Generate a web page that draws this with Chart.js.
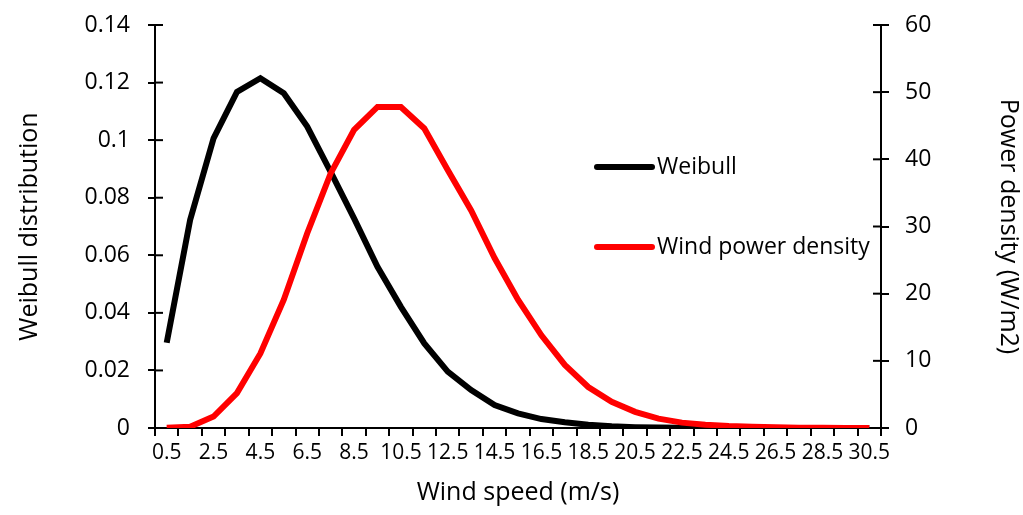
<!DOCTYPE html>
<html>
<head>
<meta charset="utf-8">
<title>Weibull distribution and wind power density</title>
<script src="https://cdn.jsdelivr.net/npm/chart.js@4.4.1/dist/chart.umd.min.js"></script>
<style>
  body { margin: 0; background: #fff; }
  #wrap { width: 1023px; height: 515px; }
</style>
</head>
<body>
<div id="wrap"><canvas id="weibull-chart" width="1023" height="515"></canvas></div>
<script>
// wind speed bins (m/s)
var windSpeed = ["0.5","1.5","2.5","3.5","4.5","5.5","6.5","7.5","8.5","9.5","10.5",
                 "11.5","12.5","13.5","14.5","15.5","16.5","17.5","18.5","19.5","20.5",
                 "21.5","22.5","23.5","24.5","25.5","26.5","27.5","28.5","29.5","30.5"];

// weibull probability (left axis)
var weibull = [0.0296,0.0723,0.1006,0.1168,0.1215,0.1163,0.1047,0.0890,0.0728,0.0560,0.0421,
               0.0294,0.0196,0.0132,0.0080,0.0051,0.0031,0.0020,0.0011,0.0006,0.0003,
               0.00015,0.00008,0.00004,0.00002,0.00001,0,0,0,0,0];

// wind power density W/m2 (right axis)
var powerDensity = [0.05,0.2,1.7,5.2,11.1,19.1,29.0,37.9,44.4,47.8,47.8,
                    44.6,38.4,32.4,25.3,19.1,13.8,9.4,6.1,3.9,2.4,
                    1.4,0.8,0.5,0.3,0.2,0.1,0.05,0.02,0.01,0];

var leftTicks = { min: 0, max: 0.14, step: 0.02 };
var rightTicks = { min: 0, max: 60, step: 10 };

var FONT = "'Open Sans', 'DejaVu Sans', sans-serif";

// ticks crossing the y axes + the legend inside the plot
var extras = {
  id: 'extras',
  afterDraw: function(chart, args, opts) {
    var ctx = chart.ctx;
    ctx.save();
    ctx.strokeStyle = '#000';
    ctx.lineWidth = 2;
    ['y', 'y1'].forEach(function(id) {
      var s = chart.scales[id];
      var x = id === 'y' ? s.right : s.left;
      var dir = id === 'y' ? 1 : -1;
      s.ticks.forEach(function(t, i) {
        var py = s.getPixelForTick(i);
        ctx.beginPath();
        ctx.moveTo(x, py);
        ctx.lineTo(x + dir * 8, py);
        ctx.stroke();
      });
    });

    // legend
    ctx.font = "23px " + FONT;
    ctx.textBaseline = 'middle';
    ctx.lineCap = 'round';
    chart.data.datasets.forEach(function(ds, i) {
      var y = opts.top + i * opts.gap;
      ctx.strokeStyle = ds.borderColor;
      ctx.lineWidth = 6;
      ctx.beginPath();
      ctx.moveTo(opts.left, y);
      ctx.lineTo(opts.left + opts.lineLen, y);
      ctx.stroke();
      ctx.fillStyle = '#000';
      ctx.fillText(ds.label, opts.left + opts.lineLen + 5, y);
    });
    ctx.restore();
  }
};

// y scales: fixed width, no extra top/bottom padding from tick labels
function fixY(width) {
  return function(s) {
    s.width = width;
    s.paddingTop = 0;
    s.paddingBottom = 0;
  };
}

var ctx = document.getElementById('weibull-chart');

var weibullChart = new Chart(ctx, {
  type: 'line',
  data: {
    labels: windSpeed,
    datasets: [
      {
        label: "Weibull",
        data: weibull,
        borderColor: "#000000",
        backgroundColor: "#000000",
        borderWidth: 6,
        pointRadius: 0,
        tension: 0,
        fill: false,
        yAxisID: 'y',
        order: 1
      },
      {
        label: "Wind power density",
        data: powerDensity,
        borderColor: "#ff0000",
        backgroundColor: "#ff0000",
        borderWidth: 6,
        pointRadius: 0,
        tension: 0,
        fill: false,
        yAxisID: 'y1',
        order: 0
      }
    ]
  },
  options: {
    responsive: false,
    animation: false,
    events: [],
    layout: { padding: { top: 25, left: 0, right: 0, bottom: 0 } },
    plugins: {
      legend: { display: false },
      tooltip: { enabled: false },
      extras: { left: 597, top: 167, gap: 80, lineLen: 55 }
    },
    scales: {
      x: {
        type: 'category',
        offset: true,
        grid: { offset: true, drawOnChartArea: false, drawTicks: true, tickLength: 8, color: '#000', lineWidth: 2 },
        border: { color: '#000', width: 2 },
        ticks: {
          autoSkip: false,
          maxRotation: 0,
          minRotation: 0,
          padding: 4,
          color: '#000',
          font: { family: FONT, size: 21 },
          callback: function(v, i) { return i % 2 === 0 ? this.getLabelForValue(v) : ''; }
        },
        title: {
          display: true,
          text: 'Wind speed (m/s)',
          color: '#000',
          font: { family: FONT, size: 25, lineHeight: 1.2 },
          padding: { top: 0, bottom: 7 }
        },
        afterFit: function(s) { s.height = 87; }
      },
      y: {
        position: 'left',
        min: leftTicks.min,
        max: leftTicks.max,
        grid: { drawOnChartArea: false, drawTicks: true, tickLength: 7, color: '#000', lineWidth: 2 },
        border: { color: '#000', width: 2 },
        ticks: {
          stepSize: leftTicks.step,
          padding: 18,
          color: '#000',
          font: { family: FONT, size: 23 },
          callback: function(v) { return String(+v.toFixed(2)); }
        },
        title: {
          display: true,
          text: 'Weibull distribution',
          color: '#000',
          font: { family: FONT, size: 25, lineHeight: 1.2 },
          padding: { top: 15, bottom: 0 }
        },
        afterFit: fixY(155)
      },
      y1: {
        position: 'right',
        min: rightTicks.min,
        max: rightTicks.max,
        grid: { drawOnChartArea: false, drawTicks: true, tickLength: 8, color: '#000', lineWidth: 2 },
        border: { color: '#000', width: 2 },
        ticks: {
          stepSize: rightTicks.step,
          padding: 16,
          color: '#000',
          font: { family: FONT, size: 23 }
        },
        title: {
          display: true,
          text: 'Power density (W/m2)',
          color: '#000',
          font: { family: FONT, size: 25, lineHeight: 1.2 },
          padding: { top: 0, bottom: 0 }
        },
        afterFit: fixY(142)
      }
    }
  },
  plugins: [extras]
});
</script>
</body>
</html>
